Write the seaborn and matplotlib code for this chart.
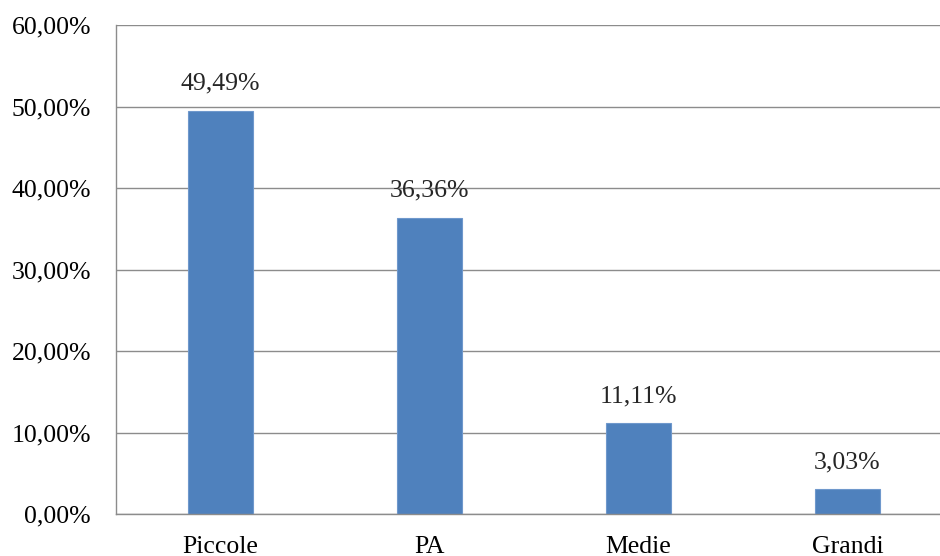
import matplotlib
matplotlib.use("Agg")
import matplotlib.pyplot as plt
import seaborn as sns
import pandas as pd
from matplotlib.ticker import FuncFormatter

categories = ["Piccole", "PA", "Medie", "Grandi"]
values = [49.49, 36.36, 11.11, 3.03]
yticks = [0, 10, 20, 30, 40, 50, 60]

df = pd.DataFrame({"categoria": categories, "valore": values})

sns.set_style("white")
plt.rcParams['font.family'] = ['Liberation Serif', 'DejaVu Serif']

fig = plt.figure(figsize=(9.4, 5.56), dpi=100)
# the plot area runs past the right edge of the picture, as in the original
ax = fig.add_axes([0.1234, 0.0755, 0.8894, 0.8795])

sns.barplot(data=df, x="categoria", y="valore", color="#4F81BD",
            width=0.311, edgecolor="#6F98CC", linewidth=0.8, saturation=1, ax=ax)

ax.set_ylim(0, 60)
ax.set_yticks(yticks)
ax.yaxis.set_major_formatter(FuncFormatter(lambda v, p: "{:.2f}%".format(v).replace(".", ",")))
ax.grid(axis="y", color="#8C8C8C", linewidth=1.0)
ax.set_axisbelow(True)
for s in ["top", "right"]:
    ax.spines[s].set_visible(False)
for s in ["left", "bottom"]:
    ax.spines[s].set_color("#8C8C8C")
    ax.spines[s].set_linewidth(1.0)
ax.set_xlabel("")
ax.set_ylabel("")
ax.tick_params(axis="y", length=0, pad=18, labelsize=18.5, colors="black")
ax.tick_params(axis="x", length=0, pad=15.5, labelsize=18.5, colors="black")

for i, v in enumerate(values):
    ax.annotate("{:.2f}%".format(v).replace(".", ","), (i, v), xytext=(0, 11.5),
                textcoords="offset points", ha="center", va="bottom", fontsize=18.5)

fig.savefig("out.png", dpi=100)
